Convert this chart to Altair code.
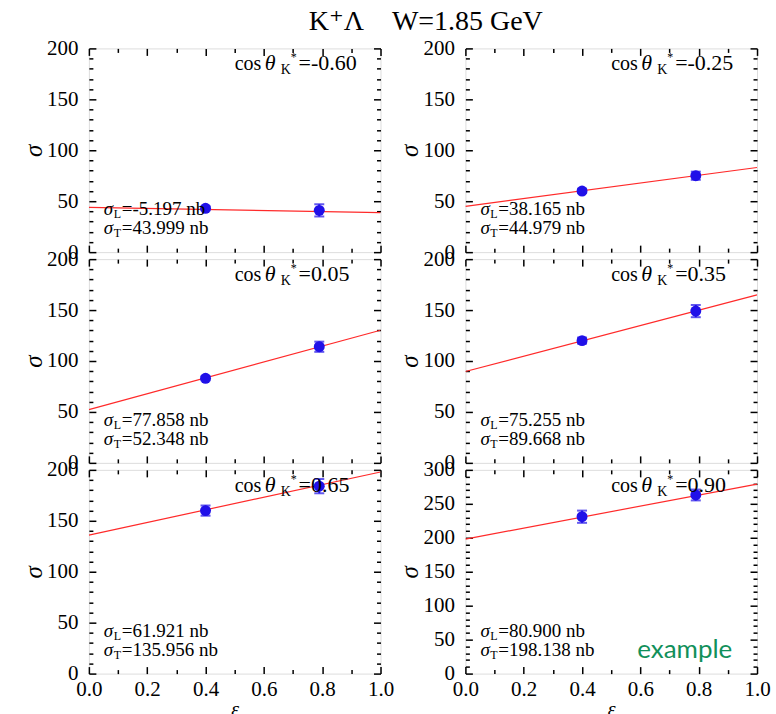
import altair as alt
import pandas as pd

# ---- data ----
cos_labels = ["-0.60", "-0.25", "0.05", "0.35", "0.65", "0.90"]
eps_points = [0.40, 0.79]
sigma_points = [[43, 41], [60, 75], [83, 114], [120, 149], [160, 184], [231, 263]]
sigma_errors = [[2, 6], [2, 4], [2, 5], [3, 6], [5, 7], [9, 8]]
fit_eps = [0.0, 1.0]
fit_sigma = [[44.0, 38.8], [45.0, 83.1], [52.3, 130.2], [89.7, 164.9], [136.0, 197.9], [198.1, 279.0]]
sigmaL_labels = ["-5.197", "38.165", "77.858", "75.255", "61.921", "80.900"]
sigmaT_labels = ["43.999", "44.979", "52.348", "89.668", "135.956", "198.138"]
y_tops = [200, 200, 200, 200, 200, 300]
x_tick_values = [0.0, 0.2, 0.4, 0.6, 0.8, 1.0]
x_minor_values = [0.1, 0.3, 0.5, 0.7, 0.9]

W, H = 292, 204
BLUE = "#2010e8"
RED = "#ff2a2a"
SERIF = "Times New Roman, Liberation Serif, DejaVu Serif, serif"


def txt(text, x, y, size, style="normal", color="black", font=SERIF, weight="normal"):
    return alt.Chart(alt.Data(values=[{}])).mark_text(
        text=text, fontSize=size, fontStyle=style, font=font, color=color,
        fontWeight=weight, align="left", baseline="alphabetic"
    ).encode(x=alt.value(x), y=alt.value(y))


def tick_layer(df, xs, ys, x_orient, y_orient, xvals, yvals, size):
    common = dict(labels=False, domain=False, title=None, grid=False,
                  tickColor="black", tickWidth=1.5, tickSize=size, offset=-size)
    return alt.Chart(df).mark_point(opacity=0).encode(
        x=alt.X("eps:Q", scale=xs, axis=alt.Axis(orient=x_orient, values=xvals, **common)),
        y=alt.Y("sig:Q", scale=ys, axis=alt.Axis(orient=y_orient, values=yvals, **common)),
    )


def make_panel(i, show_x):
    ymax = y_tops[i]
    xs = alt.Scale(domain=[0, 1], nice=False, zero=False)
    ys = alt.Scale(domain=[0, ymax], nice=False)
    pts = pd.DataFrame({
        "eps": eps_points,
        "sig": sigma_points[i],
        "lo": [s - e for s, e in zip(sigma_points[i], sigma_errors[i])],
        "hi": [s + e for s, e in zip(sigma_points[i], sigma_errors[i])],
    })
    fit = pd.DataFrame({"eps": fit_eps, "sig": fit_sigma[i]})
    major_y = list(range(0, ymax + 1, 50))
    minor_y = [v for v in range(0, ymax + 1, 10) if v % 50]

    if show_x:
        xaxis = alt.Axis(orient="bottom", values=x_tick_values, format=".1f",
                         labelFont=SERIF, labelFontSize=21, labelColor="black",
                         labelPadding=5, labelFlush=False, labelOverlap=False,
                         ticks=False, domain=False, grid=False,
                         title="ε", titleFont=SERIF, titleFontSize=20,
                         titleFontStyle="italic", titleFontWeight="normal",
                         titleColor="black", titlePadding=0)
    else:
        xaxis = None
    yaxis = alt.Axis(orient="left", values=major_y, format="d",
                     labelFont=SERIF, labelFontSize=21, labelColor="black",
                     labelPadding=11, labelFlush=False, labelOverlap=False,
                     ticks=False, domain=False, grid=False,
                     title="σ", titleFont=SERIF, titleFontSize=25,
                     titleFontStyle="italic", titleFontWeight="normal",
                     titleColor="black", titlePadding=0)

    line = alt.Chart(fit).mark_line(color=RED, strokeWidth=1.2, clip=True).encode(
        x=alt.X("eps:Q", scale=xs, axis=None),
        y=alt.Y("sig:Q", scale=ys, axis=None),
    )
    err = alt.Chart(pts).mark_rule(color=BLUE, strokeWidth=2).encode(
        x=alt.X("eps:Q", scale=xs, axis=None),
        y=alt.Y("lo:Q", scale=ys, axis=None),
        y2="hi:Q",
    )
    cap_lo = alt.Chart(pts).mark_tick(color=BLUE, orient="horizontal", size=10, thickness=2).encode(
        x=alt.X("eps:Q", scale=xs, axis=None),
        y=alt.Y("lo:Q", scale=ys, axis=None),
    )
    cap_hi = alt.Chart(pts).mark_tick(color=BLUE, orient="horizontal", size=10, thickness=2).encode(
        x=alt.X("eps:Q", scale=xs, axis=None),
        y=alt.Y("hi:Q", scale=ys, axis=None),
    )
    points = alt.Chart(pts).mark_circle(color=BLUE, size=120, opacity=1).encode(
        x=alt.X("eps:Q", scale=xs, axis=xaxis),
        y=alt.Y("sig:Q", scale=ys, axis=yaxis),
    )

    layers = [
        line, err, cap_lo, cap_hi, points,
        tick_layer(pts, xs, ys, "bottom", "left", x_tick_values, major_y, 7),
        tick_layer(pts, xs, ys, "bottom", "left", x_minor_values, minor_y, 4),
        tick_layer(pts, xs, ys, "top", "right", x_tick_values, major_y, 7),
        tick_layer(pts, xs, ys, "top", "right", x_minor_values, minor_y, 4),
        # cos theta_K* label
        txt("cos", 146, 22, 20),
        txt("θ", 176, 22, 22, style="italic"),
        txt("K", 192, 26, 14),
        txt("*", 202, 13, 12),
        txt("=" + cos_labels[i], 210, 22, 22),
        # sigma_L / sigma_T
        txt("σ", 15, 167, 19, style="italic"),
        txt("L", 25, 170, 12),
        txt("=" + sigmaL_labels[i] + " nb", 33, 167, 19),
        txt("σ", 15, 186, 19, style="italic"),
        txt("T", 25, 189, 12),
        txt("=" + sigmaT_labels[i] + " nb", 33, 186, 19),
    ]
    if i == 5:
        layers.append(txt("example", 172, 188, 26, font="Lato", color="#11905a"))

    return alt.layer(*layers).resolve_axis(x="independent", y="independent").properties(
        width=W, height=H
    )


panels = [make_panel(i, i >= 4) for i in range(6)]

chart = alt.concat(*panels, columns=2, spacing={"row": 7, "column": 85}, bounds="flush").properties(
    title=alt.Title("K⁺Λ\u00a0\u00a0\u00a0\u00a0W=1.85 GeV", font=SERIF, fontSize=28, fontWeight="normal",
                    anchor="middle", offset=1, dx=30, color="black"),
    padding={"left": 21, "top": 7, "right": 5, "bottom": 0},
).configure_view(stroke="black", strokeWidth=2).configure(background="white")

chart.save("out.html", embed_options={"renderer": "svg", "actions": False})
